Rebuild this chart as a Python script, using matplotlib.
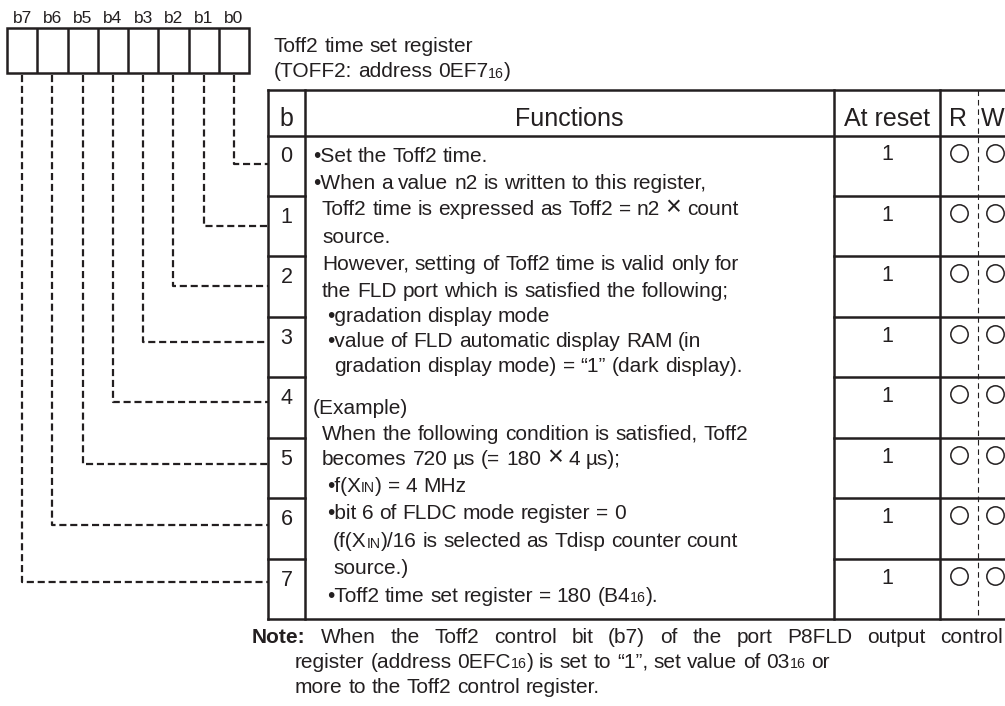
import re
import matplotlib
matplotlib.use('Agg')
import matplotlib.pyplot as plt

# ---------------- data ----------------
bit_labels = ['b7', 'b6', 'b5', 'b4', 'b3', 'b2', 'b1', 'b0']
bit_numbers = ['0', '1', '2', '3', '4', '5', '6', '7']
reset_values = ['1', '1', '1', '1', '1', '1', '1', '1']
readable = [True] * 8
writable = [True] * 8
header = ['b', 'Functions', 'At reset', 'R', 'W']
title_lines = ['Toff2 time set register', '(TOFF2: address 0EF7_{16})']
func_lines = [
    "•Set the Toff2 time.",
    "•When a value n2 is written to this register,",
    "Toff2 time is expressed as Toff2 = n2 × count",
    "source.",
    "However, setting of Toff2 time is valid only for",
    "the FLD port which is satisfied the following;",
    "•gradation display mode",
    "•value of FLD automatic display RAM (in",
    "gradation display mode) = “1” (dark display).",
    "(Example)",
    "When the following condition is satisfied, Toff2",
    "becomes 720 µs (= 180 × 4 µs);",
    "•f(X_{IN}) = 4 MHz",
    "•bit 6 of FLDC mode register = 0",
    "(f(X_{IN})/16 is selected as Tdisp counter count",
    "source.)",
    "•Toff2 time set register = 180 (B4_{16}).",
]
note_lines = [
    "**Note:** When the Toff2 control bit (b7) of the port P8FLD output control",
    "register (address 0EFC_{16}) is set to “1”, set value of 03_{16} or",
    "more to the Toff2 control register.",
]

# ---------------- layout ----------------
INK = '#231f20'
FONT = ['Liberation Sans', 'DejaVu Sans']
NOTE_SIZE = 15

W, H = 1005, 706
fig = plt.figure(figsize=(W / 100, H / 100), dpi=100)
ax = fig.add_axes([0, 0, 1, 1])
ax.set_xlim(0, W)
ax.set_ylim(H, 0)
ax.axis('off')
renderer = fig.canvas.get_renderer()

_cache = {}


def _width(s, size, weight, family):
    key = (s, size, weight, tuple(family))
    if key not in _cache:
        t = ax.text(0, 0, s, fontsize=size, fontweight=weight, family=family)
        _cache[key] = t.get_window_extent(renderer).width
        t.remove()
    return _cache[key]


def adv(s, size, weight, family):
    return _width('|' + s + '|', size, weight, family) - _width('||', size, weight, family)


def rich(x, y, s, size, family=FONT, weight='normal', right=None):
    """Draw text with _{sub} small runs, **bold** runs and a large × sign on baseline y.
    If `right` is given the line is justified to end there."""
    items = []
    for tok in re.split(r'(_\{[^}]*\}|\*\*[^*]*\*\*|×)', s):
        if not tok:
            continue
        if tok.startswith('_{'):
            core, sz, dy, wt = tok[2:-1], size * 0.68, 0.5, weight
        elif tok.startswith('**'):
            core, sz, dy, wt = tok[2:-2], size, 0, 'bold'
        elif tok == '×':
            core, sz, dy, wt = '×', size * 1.3, 0.3, weight
        else:
            core, sz, dy, wt = tok, size, 0, weight
        for piece in re.split(r'( +)', core):
            if not piece:
                continue
            if piece.strip() == '':
                items.append(('sp', len(piece), sz, wt))
            else:
                items.append(('w', piece, sz, dy, wt))
    natural = 0.0
    nsp = 0
    for it in items:
        if it[0] == 'sp':
            natural += it[1] * adv(' ', it[2], it[3], family)
            nsp += it[1]
        else:
            natural += adv(it[1], it[2], it[4], family)
    extra = 0.0
    if right is not None and nsp:
        extra = max(0.0, (right - x - natural) / nsp)
    for it in items:
        if it[0] == 'sp':
            x += it[1] * (adv(' ', it[2], it[3], family) + extra)
        else:
            _, word, sz, dy, wt = it
            ax.text(x, y + dy, word, fontsize=sz, fontweight=wt, family=family,
                    va='baseline', ha='left', color=INK)
            x += adv(word, sz, wt, family)
    return x


LW = 1.8
# register boxes
reg_left, reg_right, reg_top, reg_bot = 7, 249, 28, 73
cell_w = (reg_right - reg_left) / 8
ax.add_patch(plt.Rectangle((reg_left, reg_top), reg_right - reg_left, reg_bot - reg_top,
                           fill=False, ec=INK, lw=LW))
for k in range(1, 8):
    xx = reg_left + k * cell_w
    ax.plot([xx, xx], [reg_top, reg_bot], color=INK, lw=LW, solid_capstyle='butt')
cell_cx = [reg_left + (k + 0.5) * cell_w for k in range(8)]
for k, lab in enumerate(bit_labels):
    ax.text(cell_cx[k], 23, lab, fontsize=12.5, family=FONT, color=INK,
            ha='center', va='baseline')

# title
rich(274, 52, title_lines[0], 15)
rich(274, 77, title_lines[1], 15)

# table geometry
tx0, tb, tf, tr, trw, tend = 268, 305, 834, 940, 978, 1010
t_top, h_bot, t_bot = 90, 135.5, 619
row_h = (t_bot - h_bot) / 8
row_top = [h_bot + i * row_h for i in range(8)]
leader_y = [164, 226, 286, 342, 402, 464, 525, 582]

# leaders (bit i -> register cell 7-i)
for i in range(8):
    cx = cell_cx[7 - i]
    ax.plot([cx, cx, tx0], [reg_bot + 2, leader_y[i], leader_y[i]], color=INK, lw=1.6,
            dashes=(3.2, 1.7), solid_capstyle='butt', dash_capstyle='butt')

# table frame
for yy in (t_top, h_bot, t_bot):
    ax.plot([tx0, tend], [yy, yy], color=INK, lw=LW, solid_capstyle='projecting')
for xx in (tx0, tb, tf, tr):
    ax.plot([xx, xx], [t_top, t_bot], color=INK, lw=LW, solid_capstyle='projecting')
ax.plot([trw, trw], [t_top, t_bot], color=INK, lw=0.8, dashes=(5, 3.5))
for i in range(1, 8):
    yy = row_top[i]
    ax.plot([tx0, tb], [yy, yy], color=INK, lw=LW)
    ax.plot([tf, tend], [yy, yy], color=INK, lw=LW)

# header
hx = [(tx0 + tb) / 2, (tb + tf) / 2, (tf + tr) / 2, (tr + trw) / 2 - 1, 992.5]
for x, lab in zip(hx, header):
    ax.text(x, 126, lab, fontsize=18, family=FONT, color=INK, ha='center', va='baseline')

# rows
for i in range(8):
    ax.text((tx0 + tb) / 2, row_top[i] + 27, bit_numbers[i], fontsize=15.5, family=FONT,
            color=INK, ha='center', va='baseline')
    ax.text((tf + tr) / 2, row_top[i] + 25, reset_values[i], fontsize=15.5, family=FONT,
            color=INK, ha='center', va='baseline')
    if readable[i]:
        ax.plot([959], [row_top[i] + 17], marker='o', ms=12.5, mfc='none', mec=INK, mew=1.1)
    if writable[i]:
        ax.plot([995], [row_top[i] + 17], marker='o', ms=12.5, mfc='none', mec=INK, mew=1.1)

# function text
func_x = [313, 313, 322, 322, 322, 322, 327, 327, 334, 313, 322, 322, 327, 327, 333, 333, 327]
func_base = [162, 189, 215, 243, 270, 297, 322, 347, 372, 414, 440, 465, 492, 519, 547, 574, 602]
for x, y, s in zip(func_x, func_base, func_lines):
    rich(x, y, s, 15)

# note (first line justified to the right edge, as in the reference)
note_x = [252, 295, 295]
note_base = [643, 668, 693]
note_right = [1003, None, None]
for x, y, s, r in zip(note_x, note_base, note_lines, note_right):
    rich(x, y, s, NOTE_SIZE, right=r)

fig.savefig('out.png', dpi=100)
